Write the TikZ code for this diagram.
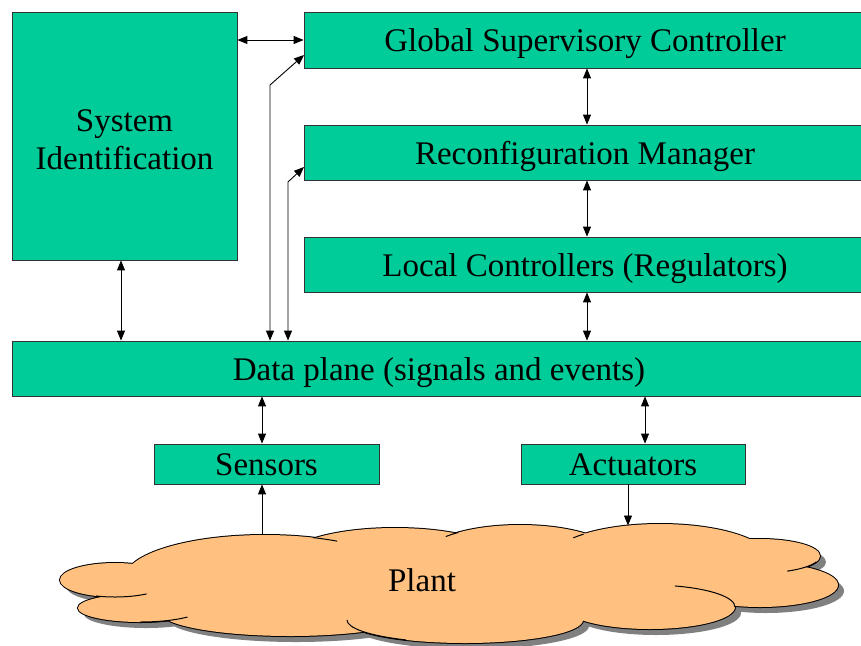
\documentclass[tikz,border=0pt]{standalone}
\usepackage{fontspec}
\setmainfont{Liberation Serif}
\usetikzlibrary{arrows.meta}
\definecolor{boxgreen}{RGB}{0,204,153}
\definecolor{plantfill}{RGB}{255,192,128}
\definecolor{shadowgray}{RGB}{128,128,128}
% lobes of the plant cloud: centre, x radius, y radius
\newcommand\plantlobes{
  (115,580) ellipse [x radius=55,  y radius=17]
  (140,608) ellipse [x radius=62,  y radius=14]
  (265,578) ellipse [x radius=140, y radius=43]
  (395,560) ellipse [x radius=110, y radius=32]
  (520,560) ellipse [x radius=100, y radius=35]
  (660,560) ellipse [x radius=110, y radius=36]
  (760,556) ellipse [x radius=60,  y radius=17]
  (760,585) ellipse [x radius=78,  y radius=22]
  (650,607) ellipse [x radius=85,  y radius=22]
  (290,612) ellipse [x radius=130, y radius=24]
  (465,620) ellipse [x radius=118, y radius=23]
  (450,588) ellipse [x radius=150, y radius=32]
}
\begin{document}
\begin{tikzpicture}[x=1pt,y=-1pt,
  bigfont/.style={font=\fontsize{33}{38}\selectfont},
  block/.style={draw=black!80, line width=0.8pt, fill=boxgreen, inner sep=0pt,
                bigfont, text height=23pt, text depth=0pt},
  link/.style={{Triangle[length=10pt,width=8pt]}-{Triangle[length=10pt,width=8pt]}, line width=0.9pt},
  feed/.style={-{Triangle[length=10pt,width=8pt]}, line width=0.9pt},
  crease/.style={line width=1pt}]
\useasboundingbox (0,0) rectangle (861,645);
\clip (0,0) rectangle (861,645);

% blocks
\node[block, minimum width=225pt, minimum height=248pt] (sysid) at (124.5,136) {};
\node[bigfont, align=center] (sysidtext) at (124.5,139.5) {System\\Identification};
\node[block, minimum width=562pt, minimum height=56pt] (gsc) at (585,40) {Global Supervisory Controller};
\node[block, minimum width=562pt, minimum height=55pt] (rm) at (585,152.5) {Reconfiguration Manager};
\node[block, minimum width=562pt, minimum height=55pt] (lc) at (585,264.5) {Local Controllers (Regulators)};
\node[block, minimum width=854pt, minimum height=55pt] (dp) at (439,368.5) {Data plane (signals and events)};
\node[block, minimum width=225pt, minimum height=40pt] (sens) at (266.5,464) {Sensors};
\node[block, minimum width=224pt, minimum height=40pt] (act) at (633,464) {Actuators};

% plant cloud: shadow, outline, fill, creases
\fill[shadowgray, shift={(6,6)}] \plantlobes;
\draw[line width=2pt] \plantlobes;
\fill[plantfill] \plantlobes;
\draw[crease] (265,578) ++(-70:140 and 43) arc [start angle=-70, end angle=-59, x radius=140, y radius=43];
\draw[crease] (520,560) ++(-138:100 and 35) arc [start angle=-138, end angle=-128, x radius=100, y radius=35];
\draw[crease] (660,560) ++(-142:110 and 36) arc [start angle=-142, end angle=-134, x radius=110, y radius=36];
\draw[crease] (760,556) ++(63:60 and 17) arc [start angle=63, end angle=20, x radius=60, y radius=17];
\draw[crease] (650,607) ++(-73:85 and 22) arc [start angle=-73, end angle=0, x radius=85, y radius=22];
\draw[crease] (465,620) ++(180:118 and 23) arc [start angle=180, end angle=120, x radius=118, y radius=23];
\draw[crease] (115,580) ++(110:55 and 17) arc [start angle=110, end angle=55, x radius=55, y radius=17];
\draw[crease] (140,608) ++(90:62 and 14) arc [start angle=90, end angle=40, x radius=62, y radius=14];
\node[bigfont] (plant) at (422,580) {Plant};

% connector columns and bends
\coordinate (xsys) at (121,0);
\coordinate (xmain) at (587,0);
\coordinate (xsens) at (262,0);
\coordinate (xact) at (645,0);
\coordinate (xplantin) at (628,0);
\coordinate (bendA) at (270,85);
\coordinate (bendB) at (288,182);
\coordinate (tipA) at (304,55);
\coordinate (tipB) at (304,167);
\coordinate (plantS) at (262,535);
\coordinate (plantA) at (628,525.5);

% connectors
\draw[link] (sysid.east |- gsc.west) -- (gsc.west);
\draw[link] (gsc.south -| xmain) -- (rm.north -| xmain);
\draw[link] (rm.south -| xmain) -- (lc.north -| xmain);
\draw[link] (lc.south -| xmain) -- (dp.north -| xmain);
\draw[link] (sysid.south -| xsys) -- (dp.north -| xsys);
\draw[link] (dp.north -| bendA) -- (bendA) -- (tipA);
\draw[link] (dp.north -| bendB) -- (bendB) -- (tipB);
\draw[link] (dp.south -| xsens) -- (sens.north -| xsens);
\draw[link] (dp.south -| xact) -- (act.north -| xact);
\draw[feed] (plantS) -- (sens.south -| plantS);
\draw[feed] (act.south -| xplantin) -- (plantA);
\end{tikzpicture}
\end{document}
